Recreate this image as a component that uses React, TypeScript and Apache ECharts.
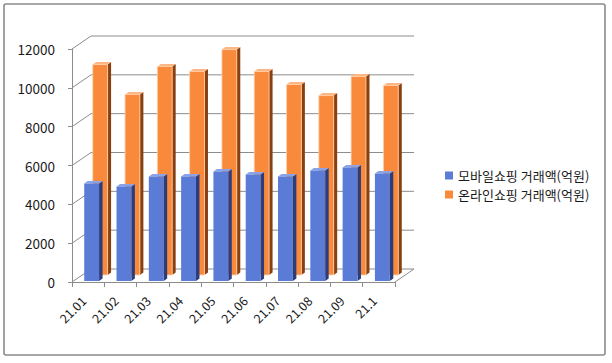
import React, { useEffect, useRef } from "react";
import * as echarts from "echarts";

const categories = ["21.01", "21.02", "21.03", "21.04", "21.05", "21.06", "21.07", "21.08", "21.09", "21.1"];
const mobileValues = [5020, 4870, 5380, 5380, 5640, 5490, 5380, 5690, 5850, 5540];
const onlineValues = [10840, 9300, 10740, 10480, 11610, 10480, 9810, 9240, 10220, 9760];
const yTicks = [0, 2000, 4000, 6000, 8000, 10000, 12000];
const mobileName = "모바일쇼핑 거래액(억원)";
const onlineName = "온라인쇼핑 거래액(억원)";

const DX = 19;
const DY = -13;
const GRID_COLOR = "#8c8c8c";
const FONT = "'Noto Sans CJK KR', 'Noto Sans', sans-serif";

function makeBarRenderer(offX: number, offY: number, front: string, side: string, top: string, stroke?: string) {
  return (params: any, api: any) => {
    const idx = api.value(0);
    const v = api.value(1);
    const pTop = api.coord([idx, v]);
    const pBase = api.coord([idx, 0]);
    const band = api.size([1, 0])[0];
    const w = band * 0.46;
    const cx = pTop[0] + offX;
    const x0 = cx - w / 2;
    const x1 = cx + w / 2;
    const yT = pTop[1] + offY;
    const yB = pBase[1] + offY;
    const dx = 3.5;
    const dy = -2.5;
    return {
      type: "group",
      children: [
        {
          type: "polygon",
          shape: { points: [[x1, yT], [x1 + dx, yT + dy], [x1 + dx, yB + dy], [x1, yB]] },
          style: { fill: side },
        },
        {
          type: "polygon",
          shape: { points: [[x0, yT], [x0 + dx, yT + dy], [x1 + dx, yT + dy], [x1, yT]] },
          style: { fill: top },
        },
        {
          type: "rect",
          shape: { x: x0, y: yT, width: w, height: yB - yT },
          style: stroke ? { fill: front, stroke, lineWidth: 0.8 } : { fill: front },
        },
      ],
    };
  };
}

export default function App() {
  const ref = useRef<HTMLDivElement>(null);
  useEffect(() => {
    if (!ref.current) return;
    const chart = echarts.init(ref.current, undefined, { renderer: "svg" });
    const option: any = {
      animation: false,
      backgroundColor: "#ffffff",
      textStyle: { fontFamily: FONT },
      graphic: [
        {
          type: "rect",
          shape: { x: 4, y: 4, width: 601, height: 351, r: 2 },
          style: { fill: "none", stroke: "#8a8a8a", lineWidth: 1.6 },
          silent: true,
          z: 100,
        },
      ],
      legend: {
        orient: "vertical",
        left: 440,
        top: 161,
        icon: "rect",
        itemWidth: 8,
        itemHeight: 8,
        itemGap: 0,
        data: [mobileName, onlineName],
        textStyle: { fontSize: 13, color: "#1a1a1a", lineHeight: 19, fontFamily: FONT },
      },
      grid: { left: 72, top: 49, width: 323, height: 233, containLabel: false },
      xAxis: {
        type: "category",
        data: categories,
        boundaryGap: true,
        axisLine: { show: true, lineStyle: { color: GRID_COLOR, width: 1 } },
        axisTick: { show: true, length: 5, lineStyle: { color: GRID_COLOR } },
        axisLabel: {
          rotate: 45,
          fontSize: 12.5,
          color: "#1a1a1a",
          margin: 21,
          verticalAlign: "bottom",
          fontFamily: FONT,
          interval: 0,
        },
        splitLine: { show: false },
      },
      yAxis: {
        type: "value",
        min: 0,
        max: 12000,
        interval: 2000,
        axisLine: { show: true, lineStyle: { color: GRID_COLOR, width: 1 } },
        axisTick: { show: true, length: 4, lineStyle: { color: GRID_COLOR } },
        axisLabel: {
          fontSize: 13.5,
          color: "#1a1a1a",
          margin: 17,
          fontFamily: FONT,
          formatter: (v: number) => String(v),
        },
        splitLine: { show: false },
      },
      series: [
        {
          type: "custom",
          name: "__frame",
          z: 1,
          silent: true,
          data: yTicks.map((v) => [0, v]),
          renderItem: (params: any, api: any) => {
            const v = api.value(1);
            const y = api.coord([0, v])[1];
            const L = params.coordSys.x;
            const R = params.coordSys.x + params.coordSys.width;
            const children: any[] = [
              { type: "line", shape: { x1: L + DX, y1: y + DY, x2: R + DX, y2: y + DY }, style: { stroke: GRID_COLOR, lineWidth: 1 } },
              { type: "line", shape: { x1: L, y1: y, x2: L + DX, y2: y + DY }, style: { stroke: GRID_COLOR, lineWidth: 1 } },
            ];
            if (v === 0) {
              children.push({ type: "line", shape: { x1: R, y1: y, x2: R + DX, y2: y + DY }, style: { stroke: GRID_COLOR, lineWidth: 1 } });
            }
            return { type: "group", children };
          },
        },
        {
          type: "custom",
          name: mobileName,
          z: 3,
          itemStyle: { color: "#5b7cd6" },
          data: mobileValues.map((v, i) => [i, v]),
          renderItem: makeBarRenderer(3.5, -1, "#5b7cd6", "#2c3d7c", "#8aa3e8"),
        },
        {
          type: "custom",
          name: onlineName,
          z: 2,
          itemStyle: { color: "#f98a3c" },
          data: onlineValues.map((v, i) => [i, v]),
          renderItem: makeBarRenderer(12, -7, "#f98a3c", "#8a3f10", "#fdb583", "#ffd3b0"),
        },
      ],
    };
    chart.setOption(option);
    return () => chart.dispose();
  }, []);
  return <div ref={ref} style={{ position: "fixed", left: 0, top: 0, width: 612, height: 363 }} />;
}
